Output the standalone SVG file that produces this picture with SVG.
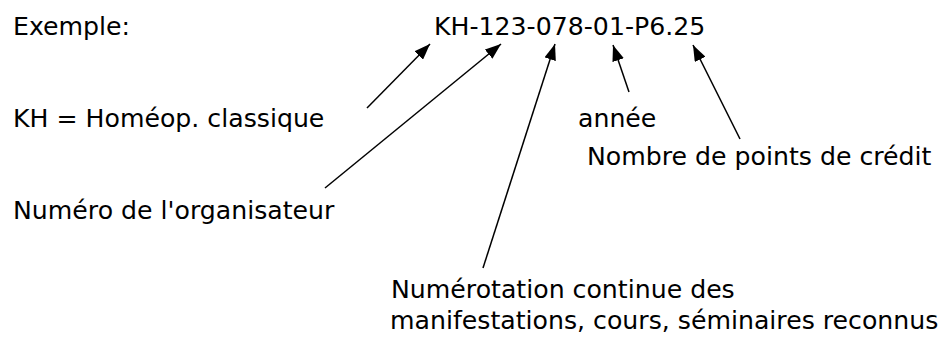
<svg xmlns="http://www.w3.org/2000/svg" width="948" height="338" viewBox="0 0 948 338">
<style>
.t{font-family:"DejaVu Sans","Noto Sans",sans-serif;font-size:25.2px;fill:#000}
.c{stroke:#000;stroke-width:1.5;fill:none;marker-end:url(#ah)}
</style>
<defs>
<marker id="ah" viewBox="0 0 16 12" refX="16" refY="6" markerWidth="16" markerHeight="12" markerUnits="userSpaceOnUse" orient="auto">
<path d="M0,0 L16,6 L0,12 z" fill="#000"/>
</marker>
</defs>
<rect width="948" height="338" fill="#fff"/>
<g id="exemple"><text class="t" x="13" y="35">Exemple:</text></g>
<g id="code"><text class="t" x="434" y="35">KH-123-078-01-P6.25</text></g>
<g id="kh"><text class="t" x="13" y="127">KH = Homéop. classique</text></g>
<g id="annee"><text class="t" x="578" y="127">année</text></g>
<g id="points"><text class="t" x="587" y="165">Nombre de points de crédit</text></g>
<g id="organisateur"><text class="t" x="13" y="219">Numéro de l'organisateur</text></g>
<g id="numerotation">
<text class="t" x="391" y="298">Numérotation continue des</text>
<text class="t" x="390" y="329">manifestations, cours, séminaires reconnus</text>
</g>
<g id="connectors">
<line class="c" x1="367" y1="108" x2="430" y2="44"/>
<line class="c" x1="325" y1="188" x2="501" y2="44"/>
<line class="c" x1="483" y1="268" x2="555" y2="44"/>
<line class="c" x1="629" y1="92" x2="613" y2="45"/>
<line class="c" x1="740" y1="139" x2="693" y2="45"/>
</g>
</svg>
